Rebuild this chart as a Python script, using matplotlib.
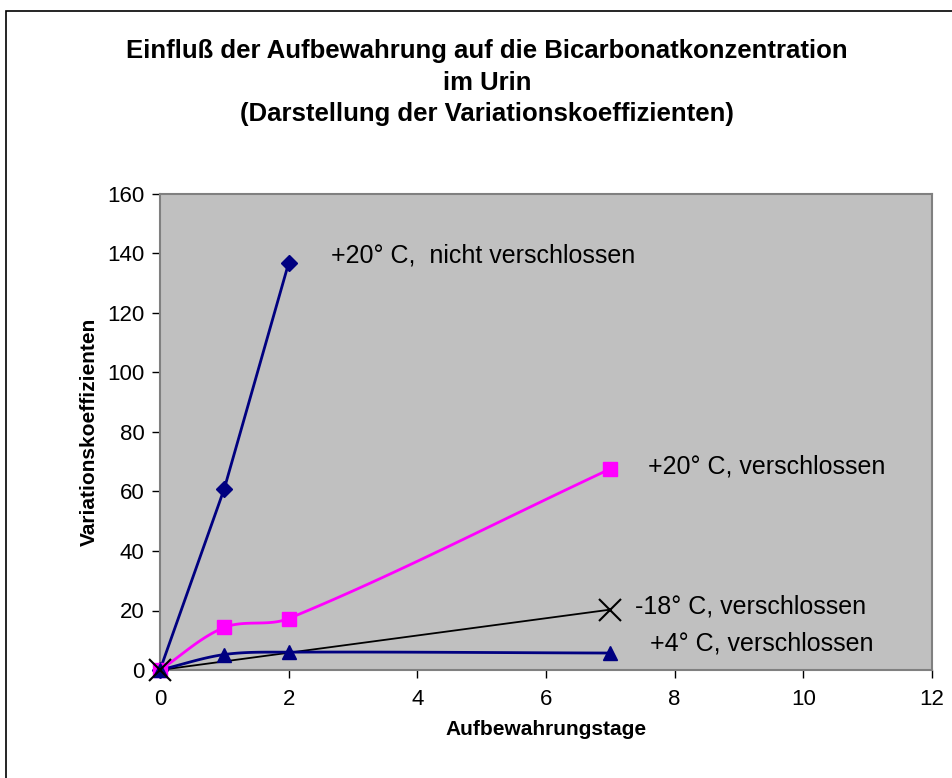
import numpy as np
import matplotlib.pyplot as plt
from matplotlib.patches import Rectangle

plt.rcParams['font.family'] = ['Liberation Sans', 'DejaVu Sans']

# Data
tage_nicht = [0, 1, 2]
vk_nicht = [0, 61.0, 136.8]          # +20 C, nicht verschlossen
tage_20 = [0, 1, 2, 7]
vk_20 = [0, 14.3, 17.3, 67.6]        # +20 C, verschlossen
tage_m18 = [0, 7]
vk_m18 = [0, 20.3]                   # -18 C, verschlossen
tage_4 = [0, 1, 2, 7]
vk_4 = [0, 5.2, 6.0, 5.7]            # +4 C, verschlossen

labels = ['+20° C,  nicht verschlossen', '+20° C, verschlossen',
          '-18° C, verschlossen', '+4° C, verschlossen']

XMAX, YMAX = 12, 160
AX_W, AX_H = 772, 476  # plot area in pixels, used for smoothing


def smooth(x, y, n=40):
    # smoothed line through the points, bezier in screen space
    px = np.asarray(x, float) / XMAX * AX_W
    py = np.asarray(y, float) / YMAX * AX_H
    pts = np.column_stack([px, py])
    k = len(pts)
    tang = []
    for i in range(k):
        a = pts[max(i - 1, 0)]
        b = pts[min(i + 1, k - 1)]
        d = b - a
        tang.append(d / np.hypot(*d))
    out = [pts[0]]
    for i in range(k - 1):
        p1, p2 = pts[i], pts[i + 1]
        L = np.hypot(*(p2 - p1)) / 3
        c1 = p1 + tang[i] * L
        c2 = p2 - tang[i + 1] * L
        t = np.linspace(0, 1, n)[1:, None]
        seg = ((1 - t) ** 3 * p1 + 3 * (1 - t) ** 2 * t * c1
               + 3 * (1 - t) * t ** 2 * c2 + t ** 3 * p2)
        out.extend(seg)
    out = np.array(out)
    return out[:, 0] / AX_W * XMAX, out[:, 1] / AX_H * YMAX


fig = plt.figure(figsize=(9.53, 7.78), dpi=100)
fig.patches.append(Rectangle((6 / 953, -0.1), 1.2, 1 - 11 / 778 + 0.1,
                             transform=fig.transFigure, fill=False,
                             edgecolor='black', linewidth=1.2))

ax = fig.add_axes([160 / 953, 1 - 670 / 778, 772 / 953, 476 / 778])
ax.set_facecolor('#C0C0C0')

navy = '#000080'
mag = '#FF00FF'

ax.plot(tage_nicht, vk_nicht, color=navy, lw=2, marker='D', ms=8.5,
        clip_on=False, zorder=4)
sx, sy = smooth(tage_20, vk_20)
ax.plot(sx, sy, color=mag, lw=2, zorder=3)
ax.plot(tage_20, vk_20, ls='none', marker='s', ms=10.5, color=mag,
        clip_on=False, zorder=4)
ax.plot(tage_m18, vk_m18, color='black', lw=1.3, zorder=3)
ax.plot(tage_m18, vk_m18, ls='none', marker='x', ms=16, mew=1.5,
        color='black', clip_on=False, zorder=6)
sx, sy = smooth(tage_4, vk_4)
ax.plot(sx, sy, color=navy, lw=2, zorder=3)
ax.plot(tage_4, vk_4, ls='none', marker='^', ms=10.5, color=navy,
        clip_on=False, zorder=5)

# series labels
ax.text(2.66, 139.3, labels[0], fontsize=18, va='center', ha='left')
ax.text(7.58, 68.3, labels[1], fontsize=18, va='center', ha='left')
ax.text(7.38, 21.5, labels[2], fontsize=18, va='center', ha='left')
ax.text(7.62, 8.8, labels[3], fontsize=18, va='center', ha='left')

ax.set_xlim(0, XMAX)
ax.set_ylim(0, YMAX)
ax.set_xticks(np.arange(0, 13, 2))
ax.set_yticks(np.arange(0, 161, 20))
ax.tick_params(direction='out', length=6, width=1, color='black',
               labelsize=16)
ax.tick_params(axis='x', pad=8)
ax.tick_params(axis='y', pad=5)
for s in ax.spines.values():
    s.set_color('#808080')
    s.set_linewidth(1.5)

ax.set_xlabel('Aufbewahrungstage', fontsize=15, fontweight='bold', labelpad=7)
ax.set_ylabel('Variationskoeffizienten', fontsize=15, fontweight='bold',
              labelpad=6)

fig.text(487 / 953, 1 - 82.5 / 778,
         'Einfluß der Aufbewahrung auf die Bicarbonatkonzentration\nim Urin\n'
         '(Darstellung der Variationskoeffizienten)',
         ha='center', va='center', fontsize=18.5, fontweight='bold',
         linespacing=1.42)

fig.savefig('out.png', dpi=100)
